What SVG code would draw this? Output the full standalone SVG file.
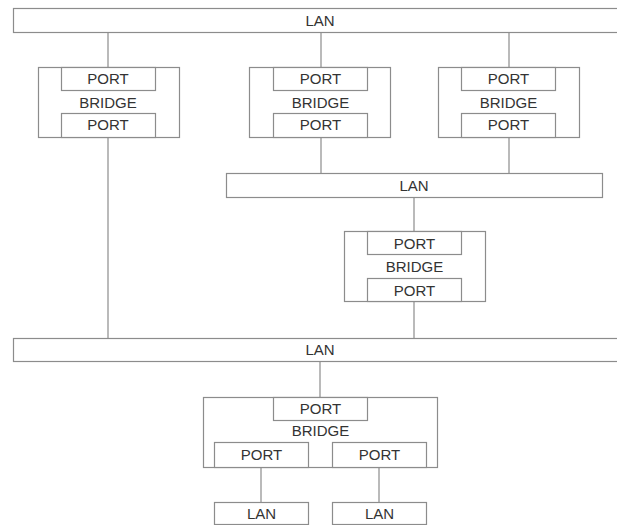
<svg xmlns="http://www.w3.org/2000/svg" width="617" height="525" viewBox="0 0 617 525">
<style>
rect{fill:#fff;stroke:#8c8c8c;stroke-width:1.2}
line{stroke:#8c8c8c;stroke-width:1.2}
text{font-family:"Liberation Sans",Arial,sans-serif;font-size:15px;fill:#333;text-anchor:middle}
</style>
<rect width="617" height="525" style="fill:#fff;stroke:none"/>
<g id="connectors">
<line x1="108" y1="32" x2="108" y2="67"/>
<line x1="321" y1="32" x2="321" y2="67"/>
<line x1="509" y1="32" x2="509" y2="67"/>
<line x1="108" y1="138" x2="108" y2="338"/>
<line x1="321" y1="138" x2="321" y2="173"/>
<line x1="509" y1="138" x2="509" y2="173"/>
<line x1="414" y1="197" x2="414" y2="231"/>
<line x1="414" y1="302" x2="414" y2="338"/>
<line x1="320" y1="361" x2="320" y2="397"/>
<line x1="261" y1="467" x2="261" y2="502"/>
<line x1="379" y1="467" x2="379" y2="502"/>
</g>
<g id="lan-top"><rect x="13.5" y="8.5" width="610" height="24"/><text x="320" y="25.5">LAN</text></g>
<g id="bridge-1">
<rect x="38.5" y="67.5" width="141" height="70"/>
<rect x="61.5" y="67.5" width="94" height="23"/><text x="108" y="83.5">PORT</text>
<text x="108" y="107.5">BRIDGE</text>
<rect x="61.5" y="113.5" width="94" height="24"/><text x="108" y="129.5">PORT</text>
</g>
<g id="bridge-2">
<rect x="249.5" y="67.5" width="141" height="70"/>
<rect x="273.5" y="67.5" width="94" height="23"/><text x="320.5" y="83.5">PORT</text>
<text x="320.5" y="107.5">BRIDGE</text>
<rect x="273.5" y="113.5" width="94" height="24"/><text x="320.5" y="129.5">PORT</text>
</g>
<g id="bridge-3">
<rect x="438.5" y="67.5" width="141" height="70"/>
<rect x="461.5" y="67.5" width="94" height="23"/><text x="508.5" y="83.5">PORT</text>
<text x="508.5" y="107.5">BRIDGE</text>
<rect x="461.5" y="113.5" width="94" height="24"/><text x="508.5" y="129.5">PORT</text>
</g>
<g id="lan-middle"><rect x="226.5" y="173.5" width="376" height="24"/><text x="414" y="190.5">LAN</text></g>
<g id="bridge-4">
<rect x="344.5" y="231.5" width="141" height="70"/>
<rect x="367.5" y="231.5" width="94" height="23"/><text x="414.5" y="248.5">PORT</text>
<text x="414.5" y="271.5">BRIDGE</text>
<rect x="367.5" y="278.5" width="94" height="23"/><text x="414.5" y="295.5">PORT</text>
</g>
<g id="lan-bottom"><rect x="13.5" y="338.5" width="610" height="23"/><text x="320" y="355">LAN</text></g>
<g id="bridge-5">
<rect x="203.5" y="397.5" width="234" height="70"/>
<rect x="273.5" y="397.5" width="94" height="23"/><text x="320.5" y="414">PORT</text>
<text x="320.5" y="435.5">BRIDGE</text>
<rect x="214.5" y="442.5" width="94" height="25"/><text x="261.5" y="460">PORT</text>
<rect x="332.5" y="442.5" width="94" height="25"/><text x="379.5" y="460">PORT</text>
</g>
<g id="lan-left"><rect x="214.5" y="502.5" width="94" height="22"/><text x="261.5" y="518.5">LAN</text></g>
<g id="lan-right"><rect x="332.5" y="502.5" width="94" height="22"/><text x="379.5" y="518.5">LAN</text></g>
</svg>
